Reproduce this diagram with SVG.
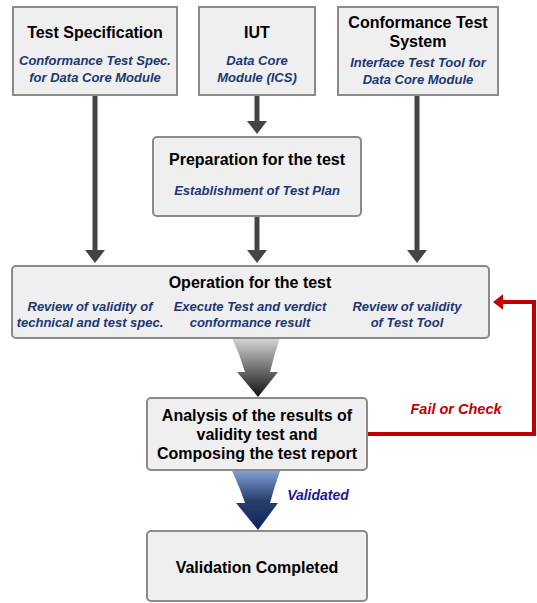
<svg xmlns="http://www.w3.org/2000/svg" width="537" height="603" viewBox="0 0 537 603">
<style>
.box{fill:#efefef;stroke:#8a8a8a;stroke-width:2}
.t{font-family:"Liberation Sans",Arial,sans-serif;font-weight:bold;font-size:16px;fill:#000;text-anchor:middle}
.s{font-family:"Liberation Sans",Arial,sans-serif;font-weight:bold;font-style:italic;font-size:13px;fill:#1c3773;text-anchor:middle}
.ln{stroke:#444;stroke-width:5;fill:none}
</style>
<defs>
<marker id="ah" markerWidth="4" markerHeight="4" refX="1.6" refY="2" orient="auto" markerUnits="strokeWidth"><path d="M0,0 L2.6,2 L0,4 z" fill="#444"/></marker>
<marker id="rh" markerWidth="4" markerHeight="4" refX="1.6" refY="2" orient="auto" markerUnits="strokeWidth"><path d="M0,0 L2.6,2 L0,4 z" fill="#c00000"/></marker>
<linearGradient id="g1" x1="0" y1="0" x2="0" y2="1"><stop offset="0" stop-color="#d6d6d6"/><stop offset="1" stop-color="#111"/></linearGradient>
<linearGradient id="g2" x1="0" y1="0" x2="0" y2="1"><stop offset="0" stop-color="#7f9fd6"/><stop offset="0.5" stop-color="#2a3f6a"/><stop offset="1" stop-color="#0b2560"/></linearGradient>
</defs>
<g id="connectors">
<line class="ln" x1="95" y1="95" x2="95" y2="258" marker-end="url(#ah)"/>
<line class="ln" x1="257" y1="95" x2="257" y2="129" marker-end="url(#ah)"/>
<line class="ln" x1="257" y1="216" x2="257" y2="258" marker-end="url(#ah)"/>
<line class="ln" x1="417" y1="95" x2="417" y2="258" marker-end="url(#ah)"/>
<path d="M232,338 Q240,355 245,372 L237,372 L258,397 L278,372 L270,372 Q274,355 280,338 Z" fill="url(#g1)"/>
<path d="M232,471 Q240,488 245,503 L236,503 L258,530 L278,503 L270,503 Q274,488 280,471 Z" fill="url(#g2)"/>
<polyline points="367,434 534,434 534,302 497,302" fill="none" stroke="#c00000" stroke-width="4" marker-end="url(#rh)"/>
<text x="456" y="414" font-family="Liberation Sans,Arial,sans-serif" font-weight="bold" font-style="italic" font-size="14.5" fill="#c00000" text-anchor="middle">Fail or Check</text>
<text x="318" y="500" font-family="Liberation Sans,Arial,sans-serif" font-weight="bold" font-style="italic" font-size="14" fill="#1a1a9a" text-anchor="middle">Validated</text>
</g>
<g id="test-spec">
<rect class="box" x="13" y="7" width="164" height="88"/>
<text class="t" x="95" y="38">Test Specification</text>
<text class="s" x="95" y="65">Conformance Test Spec.</text>
<text class="s" x="95" y="82">for Data Core Module</text>
</g>
<g id="iut">
<rect class="box" x="199" y="7" width="116" height="88"/>
<text class="t" x="257" y="38">IUT</text>
<text class="s" x="257" y="65">Data Core</text>
<text class="s" x="257" y="82">Module (ICS)</text>
</g>
<g id="cts">
<rect class="box" x="338" y="7" width="160" height="88"/>
<text class="t" x="418" y="28">Conformance Test</text>
<text class="t" x="418" y="47">System</text>
<text class="s" x="418" y="67">Interface Test Tool for</text>
<text class="s" x="418" y="84">Data Core Module</text>
</g>
<g id="prep">
<rect class="box" x="153" y="137" width="208" height="79" rx="4"/>
<text class="t" x="257" y="165">Preparation for the test</text>
<text class="s" x="257" y="195">Establishment of Test Plan</text>
</g>
<g id="operation">
<rect class="box" x="12" y="266" width="477" height="72" rx="4"/>
<text class="t" x="250" y="288">Operation for the test</text>
<text class="s" x="90" y="311">Review of validity of</text>
<text class="s" x="90" y="327">technical and test spec.</text>
<text class="s" x="250" y="311">Execute Test and verdict</text>
<text class="s" x="250" y="327">conformance result</text>
<text class="s" x="407" y="311">Review of validity</text>
<text class="s" x="407" y="327">of Test Tool</text>
</g>
<g id="analysis">
<rect class="box" x="147" y="398" width="220" height="72" rx="4"/>
<text class="t" x="257" y="421">Analysis of the results of</text>
<text class="t" x="257" y="440">validity test and</text>
<text class="t" x="257" y="459">Composing the test report</text>
</g>
<g id="completed">
<rect class="box" x="147" y="531" width="220" height="70" rx="4"/>
<text class="t" x="257" y="573">Validation Completed</text>
</g>
</svg>
